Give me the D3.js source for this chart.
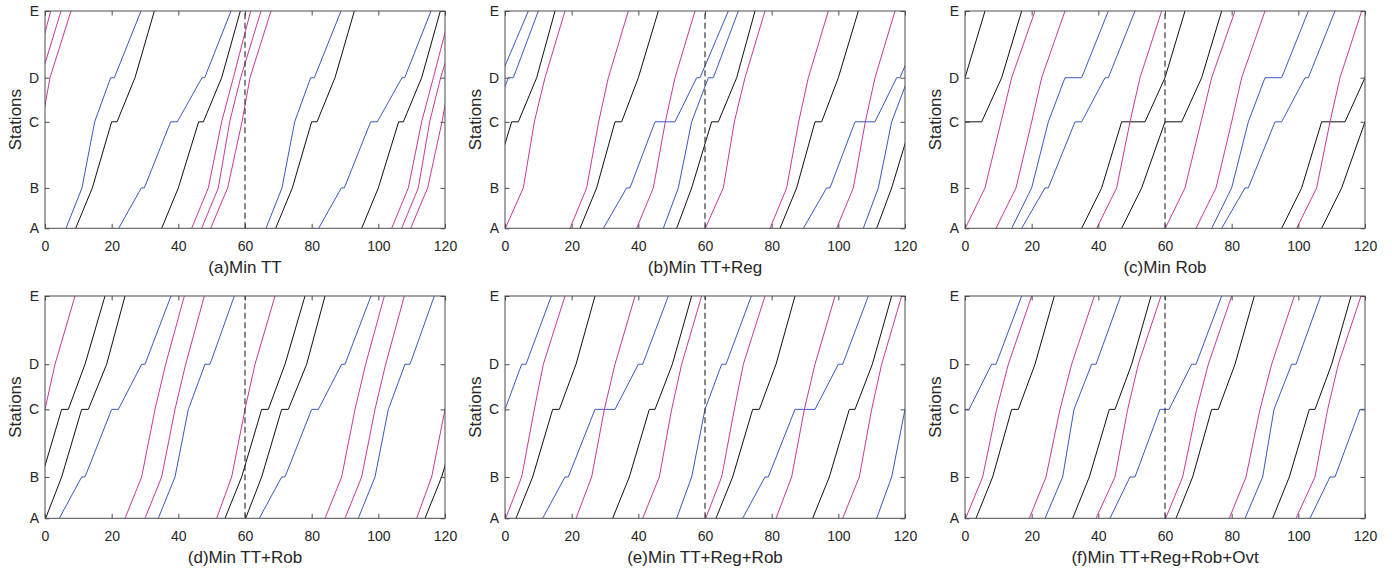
<!DOCTYPE html>
<html lang="en">
<head>
<meta charset="utf-8">
<title>Cyclic timetables</title>
<script src="https://cdn.jsdelivr.net/npm/d3@7"></script>
<style>
  body { margin: 0; background: #fff; }
  svg text { font-family: "Liberation Sans", Arial, Helvetica, sans-serif; fill: #262626; }
  .train { fill: none; stroke-width: 1; stroke-linejoin: round; }
  .box { fill: none; stroke: #4d4d4d; stroke-width: 1; }
  .tick line { stroke: #4d4d4d; }
</style>
</head>
<body>
<script>
// stations and their position along the line (relative distance)
var stations = ["A", "B", "C", "D", "E"];
var stationPos = [0, 18.6, 49.0, 69.3, 100];
var xTicks = [0, 20, 40, 60, 80, 100, 120];
var titles = ["(a)Min TT", "(b)Min TT+Reg", "(c)Min Rob",
              "(d)Min TT+Rob", "(e)Min TT+Reg+Rob", "(f)Min TT+Reg+Rob+Ovt"];

// one hour of the cyclic timetable, drawn for every cycle
var cycleOffsets = [-60, 0, 60];
var splitTime = 60;

// each train: [line, [dep A, arr B, dep B, arr C, dep C, arr D, dep D, arr E]]
var panelA = [
  ["blue",    [6.3, 11.1, 11.1, 14.9, 14.9, 19.7, 20.8, 28.8]],
  ["black",   [9.2, 14.2, 14.2, 20.0, 21.6, 27.0, 27.0, 32.8]],
  ["blue",    [22.1, 28.9, 29.8, 37.7, 39.7, 47.1, 47.9, 55.8]],
  ["black",   [35.0, 40.0, 40.0, 46.1, 47.5, 53.0, 53.0, 58.6]],
  ["magenta", [44.0, 49.0, 49.0, 53.0, 53.0, 56.5, 56.5, 61.7]],
  ["magenta", [47.0, 52.0, 52.0, 55.4, 55.4, 58.7, 58.7, 64.8]],
  ["magenta", [49.7, 54.8, 54.8, 59.1, 59.1, 61.5, 61.5, 67.8]]
];
var panelB = [
  ["magenta", [0.1, 5.5, 5.5, 8.8, 8.8, 12.0, 12.0, 18.0]],
  ["magenta", [19.5, 24.5, 24.5, 28.1, 28.1, 31.0, 31.0, 37.0]],
  ["magenta", [39.5, 44.5, 44.5, 48.1, 48.1, 51.0, 51.0, 57.0]],
  ["black",   [22.5, 27.5, 27.5, 33.0, 35.0, 40.0, 40.0, 46.0]],
  ["black",   [51.5, 56.0, 56.0, 62.0, 64.0, 69.5, 69.5, 75.0]],
  ["blue",    [29.5, 36.5, 37.5, 45.0, 51.0, 57.5, 58.5, 67.0]],
  ["blue",    [47.5, 52.0, 52.0, 56.0, 56.0, 61.0, 62.5, 70.0]]
];
var panelC = [
  ["black",   [35.0, 41.0, 41.0, 47.0, 54.0, 60.0, 60.0, 66.0]],
  ["black",   [47.0, 53.0, 53.0, 60.0, 65.0, 71.0, 71.0, 77.0]],
  ["magenta", [0.1, 6.0, 6.0, 10.8, 10.8, 14.0, 14.0, 21.0]],
  ["magenta", [9.3, 15.3, 15.3, 20.0, 20.0, 23.0, 23.0, 30.0]],
  ["magenta", [39.5, 45.5, 45.5, 49.5, 49.5, 52.5, 52.5, 59.0]],
  ["blue",    [14.0, 20.0, 20.0, 25.0, 25.0, 30.0, 35.0, 43.0]],
  ["blue",    [17.0, 24.0, 25.0, 33.0, 35.0, 42.0, 43.0, 51.0]]
];
var panelD = [
  ["magenta", [51.5, 56.0, 56.0, 60.0, 60.0, 63.0, 63.0, 69.0]],
  ["black",   [54.0, 59.0, 59.0, 65.0, 67.0, 72.0, 72.0, 78.0]],
  ["black",   [0.2, 5.0, 5.0, 11.0, 13.0, 18.5, 18.5, 24.0]],
  ["blue",    [4.3, 11.0, 12.0, 20.0, 22.0, 29.0, 30.0, 37.8]],
  ["magenta", [24.0, 29.0, 29.0, 33.0, 33.0, 36.2, 36.2, 41.8]],
  ["magenta", [30.0, 35.0, 35.0, 39.0, 39.0, 42.2, 42.2, 47.8]],
  ["blue",    [34.0, 39.0, 39.0, 43.0, 43.0, 48.0, 49.5, 56.8]]
];
var panelE = [
  ["blue",    [51.5, 56.0, 56.0, 60.0, 60.0, 65.0, 66.3, 73.9]],
  ["magenta", [0.2, 5.0, 5.0, 8.8, 8.8, 11.5, 11.5, 18.0]],
  ["black",   [3.3, 8.3, 8.3, 14.3, 16.3, 21.3, 21.3, 27.0]],
  ["blue",    [11.3, 18.0, 19.0, 27.0, 33.0, 40.0, 41.3, 49.0]],
  ["magenta", [21.3, 26.0, 26.0, 29.8, 29.8, 33.0, 33.0, 39.0]],
  ["black",   [32.3, 37.3, 37.3, 43.3, 45.0, 50.2, 50.2, 56.0]],
  ["magenta", [41.3, 46.3, 46.3, 50.0, 50.0, 53.0, 53.0, 59.0]]
];
var panelF = [
  ["blue",    [43.5, 49.5, 51.0, 58.5, 61.2, 68.0, 69.3, 77.0]],
  ["magenta", [0.2, 5.3, 5.3, 9.5, 9.5, 13.0, 13.0, 20.0]],
  ["black",   [3.3, 8.3, 8.3, 14.0, 16.0, 21.0, 21.0, 26.8]],
  ["magenta", [19.3, 24.3, 24.3, 28.5, 28.5, 32.0, 32.0, 38.8]],
  ["blue",    [24.0, 29.3, 29.3, 32.7, 32.7, 38.0, 39.3, 46.7]],
  ["black",   [32.3, 37.3, 37.3, 43.3, 45.0, 50.0, 50.0, 55.8]],
  ["magenta", [39.3, 45.0, 45.0, 48.8, 48.8, 52.0, 52.0, 58.8]]
];
var panels = [panelA, panelB, panelC, panelD, panelE, panelF];

var lineColor = { blue: "#3b58c0", black: "#111111", magenta: "#c8389c" };

// layout
var w = 1392, h = 572;
var colLeft = [45, 505, 965];
var plotW = 400;
var rows = [ { top: 11, bottom: 228.3 }, { top: 296, bottom: 518.3 } ];

var svg = d3.select("body").append("svg")
  .attr("width", w)
  .attr("height", h);

// which station each time in the list belongs to
var stopIndex = [0, 1, 1, 2, 2, 3, 3, 4];

panels.forEach(function(trains, i){
  var row = rows[Math.floor(i / 3)];
  var left = colLeft[i % 3];

  var xScale = d3.scaleLinear().domain([0, 120]).range([left, left + plotW]);
  var yScale = d3.scaleLinear().domain([0, 100]).range([row.bottom, row.top]);

  var g = svg.append("g");

  g.append("clipPath").attr("id", "clip" + i)
    .append("rect")
    .attr("x", left).attr("y", row.top)
    .attr("width", plotW).attr("height", row.bottom - row.top);

  var line = d3.line()
    .x(function(d){ return xScale(d[0]); })
    .y(function(d){ return yScale(stationPos[d[1]]); });

  var plot = g.append("g").attr("clip-path", "url(#clip" + i + ")");

  cycleOffsets.forEach(function(off){
    trains.forEach(function(tr){
      var pts = tr[1].map(function(t, k){ return [t + off, stopIndex[k]]; });
      plot.append("path")
        .datum(pts)
        .attr("class", "train")
        .attr("stroke", lineColor[tr[0]])
        .attr("d", line);
    });
  });

  // dashed marker at the cycle split
  g.append("line")
    .attr("x1", xScale(splitTime)).attr("x2", xScale(splitTime))
    .attr("y1", row.bottom).attr("y2", row.top)
    .attr("stroke", "#3a3a3a")
    .attr("stroke-width", 1.2)
    .attr("stroke-dasharray", "6,3.5");

  // axes, ticks pointing inwards on all four sides
  var xAxis = d3.axisBottom(xScale).tickValues(xTicks)
    .tickSizeInner(-4.5).tickSizeOuter(0).tickPadding(12.3);
  var gx = g.append("g").attr("transform", "translate(0," + row.bottom + ")").call(xAxis);
  gx.selectAll("text").attr("font-size", 14).attr("font-family", null);

  var xTop = d3.axisTop(xScale).tickValues(xTicks)
    .tickSizeInner(-4.5).tickSizeOuter(0).tickFormat("");
  g.append("g").attr("transform", "translate(0," + row.top + ")").call(xTop);

  var yAxis = d3.axisLeft(yScale).tickValues(stationPos)
    .tickFormat(function(d, k){ return stations[k]; })
    .tickSizeInner(-4.5).tickSizeOuter(0).tickPadding(6);
  var gy = g.append("g").attr("transform", "translate(" + left + ",0)").call(yAxis);
  gy.selectAll("text").attr("font-size", 14).attr("font-family", null);

  var yRight = d3.axisRight(yScale).tickValues(stationPos)
    .tickSizeInner(-4.5).tickSizeOuter(0).tickFormat("");
  g.append("g").attr("transform", "translate(" + (left + plotW) + ",0)").call(yRight);

  g.selectAll(".domain").remove();

  g.append("rect")
    .attr("class", "box")
    .attr("x", left).attr("y", row.top)
    .attr("width", plotW).attr("height", row.bottom - row.top);

  // labels
  g.append("text")
    .attr("transform", "translate(" + (left - 24) + "," + ((row.top + row.bottom) / 2) + ") rotate(-90)")
    .attr("text-anchor", "middle")
    .attr("font-size", 17)
    .text("Stations");

  g.append("text")
    .attr("x", left + plotW / 2)
    .attr("y", row.bottom + 45)
    .attr("text-anchor", "middle")
    .attr("font-size", 17)
    .text(titles[i]);
});
</script>
</body>
</html>
